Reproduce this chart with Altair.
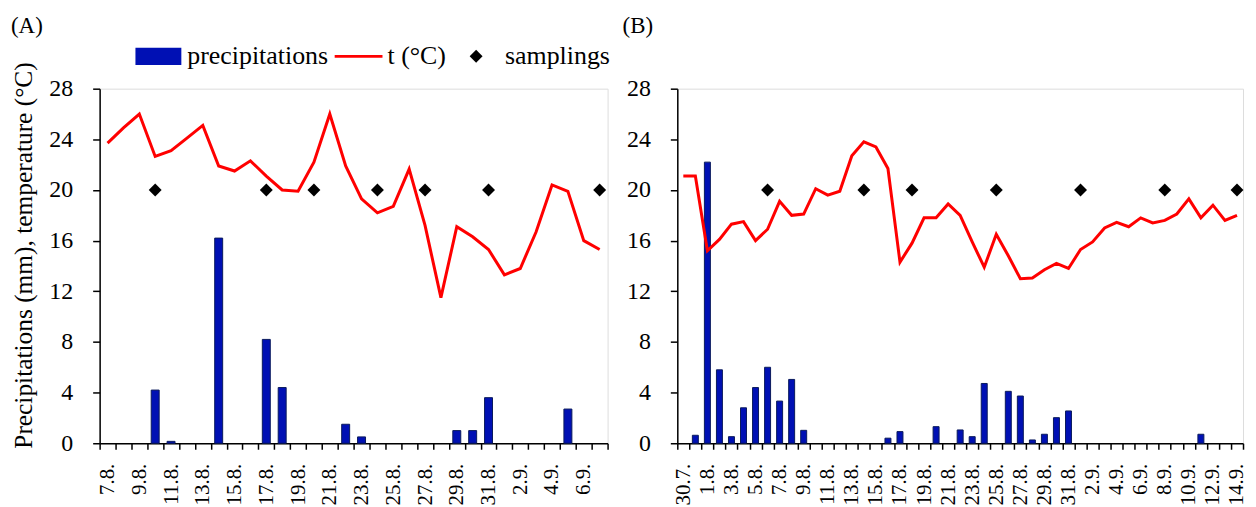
import altair as alt
import pandas as pd

FONT = "Liberation Serif"

# ---------------- Panel A ----------------
a_dates = ["7.8.", "8.8.", "9.8.", "10.8.", "11.8.", "12.8.", "13.8.", "14.8.", "15.8.", "16.8.",
           "17.8.", "18.8.", "19.8.", "20.8.", "21.8.", "22.8.", "23.8.", "24.8.", "25.8.", "26.8.",
           "27.8.", "28.8.", "29.8.", "30.8.", "31.8.", "1.9.", "2.9.", "3.9.", "4.9.", "5.9.",
           "6.9.", "7.9."]
a_temp = [23.7, 24.9, 26.0, 22.65, 23.1, 24.1, 25.1, 21.9, 21.5, 22.3,
          21.1, 20.0, 19.9, 22.2, 26.0, 21.9, 19.3, 18.2, 18.7, 21.65,
          17.2, 11.5, 17.1, 16.3, 15.3, 13.3, 13.8, 16.7, 20.4, 19.9,
          16.0, 15.3]
a_precip = [0, 0, 0, 4.2, 0.15, 0, 0, 16.2, 0, 0,
            8.2, 4.4, 0, 0, 0, 1.5, 0.5, 0, 0, 0,
            0, 0, 1.0, 1.0, 3.6, 0, 0, 0, 0, 2.7,
            0, 0]
a_sampling_dates = ["10.8.", "17.8.", "20.8.", "24.8.", "27.8.", "31.8.", "7.9."]
a_sampling_values = [20, 20, 20, 20, 20, 20, 20]
a_tick_labels = ["7.8.", "9.8.", "11.8.", "13.8.", "15.8.", "17.8.", "19.8.", "21.8.", "23.8.",
                 "25.8.", "27.8.", "29.8.", "31.8.", "2.9.", "4.9.", "6.9."]

# ---------------- Panel B ----------------
b_dates = ["30.7.", "31.7.", "1.8.", "2.8.", "3.8.", "4.8.", "5.8.", "6.8.", "7.8.", "8.8.",
           "9.8.", "10.8.", "11.8.", "12.8.", "13.8.", "14.8.", "15.8.", "16.8.", "17.8.", "18.8.",
           "19.8.", "20.8.", "21.8.", "22.8.", "23.8.", "24.8.", "25.8.", "26.8.", "27.8.", "28.8.",
           "29.8.", "30.8.", "31.8.", "1.9.", "2.9.", "3.9.", "4.9.", "5.9.", "6.9.", "7.9.",
           "8.9.", "9.9.", "10.9.", "11.9.", "12.9.", "13.9.", "14.9."]
b_temp = [21.1, 21.1, 15.2, 16.1, 17.3, 17.5, 16.0, 16.9, 19.1, 18.0,
          18.1, 20.1, 19.6, 19.9, 22.7, 23.8, 23.4, 21.7, 14.3, 15.8,
          17.8, 17.8, 18.9, 18.0, 15.9, 13.9, 16.5, 14.8, 13.0, 13.05,
          13.7, 14.2, 13.8, 15.3, 15.9, 17.0, 17.45, 17.1, 17.8, 17.4,
          17.6, 18.1, 19.3, 17.8, 18.8, 17.6, 18.0]
b_precip = [0, 0.63, 22.2, 5.8, 0.52, 2.8, 4.4, 6.0, 3.33, 5.04,
            1.02, 0, 0, 0, 0, 0, 0, 0.4, 0.92, 0,
            0, 1.31, 0, 1.05, 0.52, 4.72, 0, 4.1, 3.73, 0.26,
            0.71, 2.02, 2.55, 0, 0, 0, 0, 0, 0, 0,
            0, 0, 0, 0.71, 0, 0, 0]
b_sampling_dates = ["6.8.", "14.8.", "18.8.", "25.8.", "1.9.", "8.9.", "14.9."]
b_sampling_values = [20, 20, 20, 20, 20, 20, 20]
b_tick_labels = ["30.7.", "1.8.", "3.8.", "5.8.", "7.8.", "9.8.", "11.8.", "13.8.", "15.8.",
                 "17.8.", "19.8.", "21.8.", "23.8.", "25.8.", "27.8.", "29.8.", "31.8.",
                 "2.9.", "4.9.", "6.9.", "8.9.", "10.9.", "12.9.", "14.9."]

y_ticks = [0, 4, 8, 12, 16, 20, 24, 28]
series_names = ["precipitations", "t (°C)", "samplings"]
series_colors = ["#0010B4", "#FF0000", "#000000"]
series_shapes = [
    "M-0.96,-0.36L0.96,-0.36L0.96,0.36L-0.96,0.36Z",
    "M-1,-0.06L1,-0.06L1,0.06L-1,0.06Z",
    "M0,-0.27L0.27,0L0,0.27L-0.27,0Z",
]

color_scale = alt.Scale(domain=series_names, range=series_colors)
shape_scale = alt.Scale(domain=series_names, range=series_shapes)

legend = alt.Legend(
    title=None, orient="none", legendX=35, legendY=-56.5, direction="horizontal",
    columns=3, symbolSize=2304, labelFont=FONT, labelFontSize=26, labelColor="black",
    labelOffset=5, columnPadding=6, symbolStrokeWidth=0, labelLimit=400,
)


def panel(dates, temp, precip, s_dates, s_vals, tick_labels, bar_size, width, label, show_title,
          title_dx, title_offset):
    bars_df = pd.DataFrame({"date": dates, "value": precip, "series": series_names[0]})
    bars_df = bars_df[bars_df["value"] > 0]
    line_df = pd.DataFrame({"date": dates, "value": temp, "series": series_names[1],
                            "idx": list(range(len(dates)))})
    pts_df = pd.DataFrame({"date": s_dates, "value": s_vals, "series": series_names[2]})

    label_arr = "[" + ",".join("'" + t + "'" for t in tick_labels) + "]"
    x = alt.X(
        "date:N",
        scale=alt.Scale(type="band", domain=dates, paddingInner=0, paddingOuter=0),
        axis=alt.Axis(
            title=None, labelAngle=-90, labelFont=FONT, labelFontSize=21, labelColor="black",
            labelExpr=f"indexof({label_arr}, datum.value) >= 0 ? datum.value : ''",
            tickBand="extent", tickSize=6, tickWidth=1.5, tickColor="black",
            domainColor="black", domainWidth=1.5, labelPadding=14, labelOverlap=False,
            labelBound=False,
        ),
    )
    y = alt.Y(
        "value:Q",
        scale=alt.Scale(domain=[0, 28], nice=False, zero=True),
        axis=alt.Axis(
            title="Precipitations (mm), temperature (°C)" if show_title else None,
            titleFont=FONT, titleFontSize=25.5, titleFontWeight="normal", titleColor="black",
            titlePadding=12, titleY=167,
            values=y_ticks, labelFont=FONT, labelFontSize=24, labelColor="black",
            tickSize=7, tickWidth=1.5, tickColor="black", domainColor="black", domainWidth=1.5,
            labelPadding=20, grid=False,
        ),
    )
    color = alt.Color("series:N", scale=color_scale, legend=legend)

    bars = alt.Chart(bars_df).mark_bar(size=bar_size, stroke="#0A1A5C", strokeWidth=1).encode(
        x=x, y=y, color=color)
    line = alt.Chart(line_df).mark_line(strokeWidth=3).encode(
        x=x, y=y, color=color, order="idx:Q")
    pts = alt.Chart(pts_df).mark_point(filled=True, size=2304, opacity=1).encode(
        x=x, y=y, color=color,
        shape=alt.Shape("series:N", scale=shape_scale, legend=legend))

    return alt.layer(bars, line, pts).properties(
        width=width, height=356,
        title=alt.Title(label, anchor="start", frame="group", dx=title_dx, offset=title_offset,
                        font=FONT, fontSize=23, fontWeight="normal", color="black"),
    )


pa = panel(a_dates, a_temp, a_precip, a_sampling_dates, a_sampling_values, a_tick_labels,
           8, 510, "(A)", True, -89, 24)
pb = panel(b_dates, b_temp, b_precip, b_sampling_dates, b_sampling_values, b_tick_labels,
           6, 568, "(B)", False, -55, 39)

chart = alt.hconcat(pa, pb, spacing=11).resolve_scale(
    x="independent", y="independent", color="shared", shape="shared"
).resolve_legend(color="shared", shape="shared").properties(
    padding={"left": 2, "top": 5, "right": 0, "bottom": 0}
).configure_view(stroke=None).configure(background="white")

chart.save("out.html", embed_options={"renderer": "svg", "actions": False})
